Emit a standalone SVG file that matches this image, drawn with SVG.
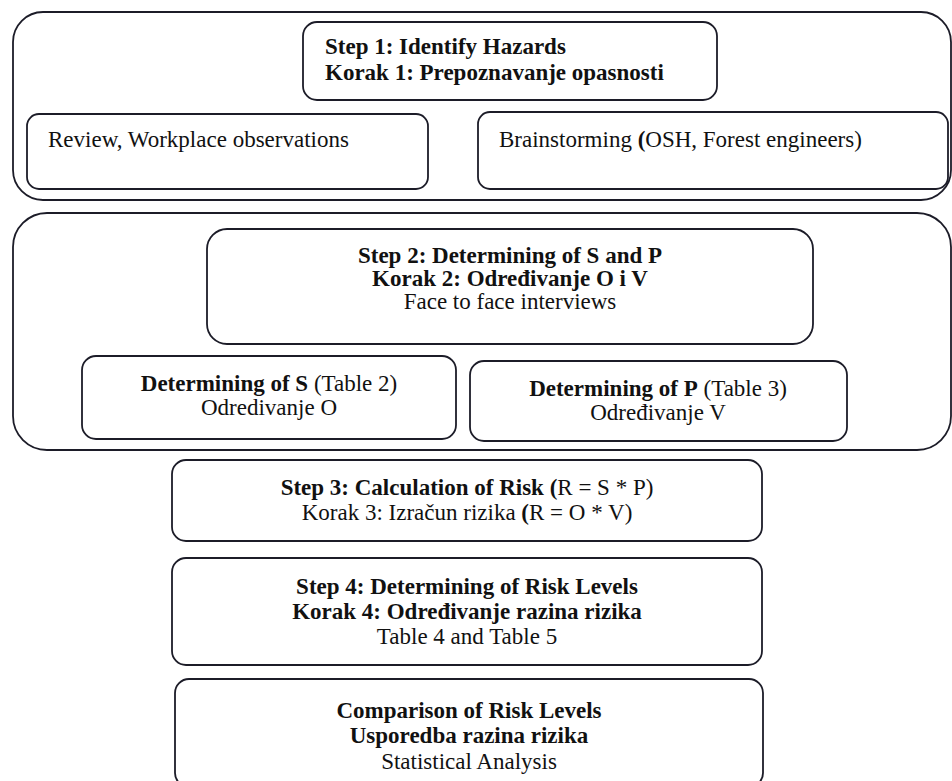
<svg xmlns="http://www.w3.org/2000/svg" width="952" height="781" viewBox="0 0 952 781">
<style>
.box{fill:#fff;stroke:#1c1c28;stroke-width:1.8}
.t{font-family:"Liberation Serif","Times New Roman",serif;font-size:23px;fill:#111}
.b{font-weight:bold}
.c{text-anchor:middle}
</style>
<rect width="952" height="781" fill="#fff"/>
<g id="outer1"><rect class="box" x="13" y="12" width="938" height="188" rx="30"/></g>
<g id="step1"><rect class="box" x="303" y="22" width="414" height="78" rx="14"/>
<text class="t b" x="325" y="54">Step 1: Identify Hazards</text>
<text class="t b" x="325" y="80">Korak 1: Prepoznavanje opasnosti</text></g>
<g id="review"><rect class="box" x="27" y="114" width="401" height="75" rx="12"/>
<text class="t" x="48" y="147">Review, Workplace observations</text></g>
<g id="brainstorm"><rect class="box" x="478" y="112" width="470" height="77" rx="12"/>
<text class="t" x="499" y="147">Brainstorming <tspan class="b">(</tspan>OSH, Forest engineers)</text></g>
<g id="outer2"><rect class="box" x="13" y="213" width="938" height="237" rx="34"/></g>
<g id="step2"><rect class="box" x="207" y="229" width="606" height="115" rx="20"/>
<text class="t b c" x="510" y="263">Step 2: Determining of S and P</text>
<text class="t b c" x="510" y="286">Korak 2: Određivanje O i V</text>
<text class="t c" x="510" y="309">Face to face interviews</text></g>
<g id="detS"><rect class="box" x="82" y="356" width="374" height="83" rx="14"/>
<text class="t c" x="269" y="391"><tspan class="b">Determining of S</tspan> (Table 2)</text>
<text class="t c" x="269" y="415">Odredivanje O</text></g>
<g id="detP"><rect class="box" x="470" y="361" width="377" height="80" rx="14"/>
<text class="t c" x="658" y="396"><tspan class="b">Determining of P</tspan> (Table 3)</text>
<text class="t c" x="658" y="420">Određivanje V</text></g>
<g id="step3"><rect class="box" x="172" y="460" width="590" height="81" rx="14"/>
<text class="t c" x="467" y="495"><tspan class="b">Step 3: Calculation of Risk (</tspan>R = S * P)</text>
<text class="t c" x="467" y="520">Korak 3: Izračun rizika <tspan class="b">(</tspan>R = O * V)</text></g>
<g id="step4"><rect class="box" x="172" y="558" width="590" height="107" rx="14"/>
<text class="t b c" x="467" y="594">Step 4: Determining of Risk Levels</text>
<text class="t b c" x="467" y="619">Korak 4: Određivanje razina rizika</text>
<text class="t c" x="467" y="644">Table 4 and Table 5</text></g>
<g id="comparison"><rect class="box" x="175" y="679" width="588" height="108" rx="14"/>
<text class="t b c" x="469" y="718">Comparison of Risk Levels</text>
<text class="t b c" x="469" y="743">Usporedba razina rizika</text>
<text class="t c" x="469" y="769">Statistical Analysis</text></g>
<g id="connectors"></g>
</svg>
